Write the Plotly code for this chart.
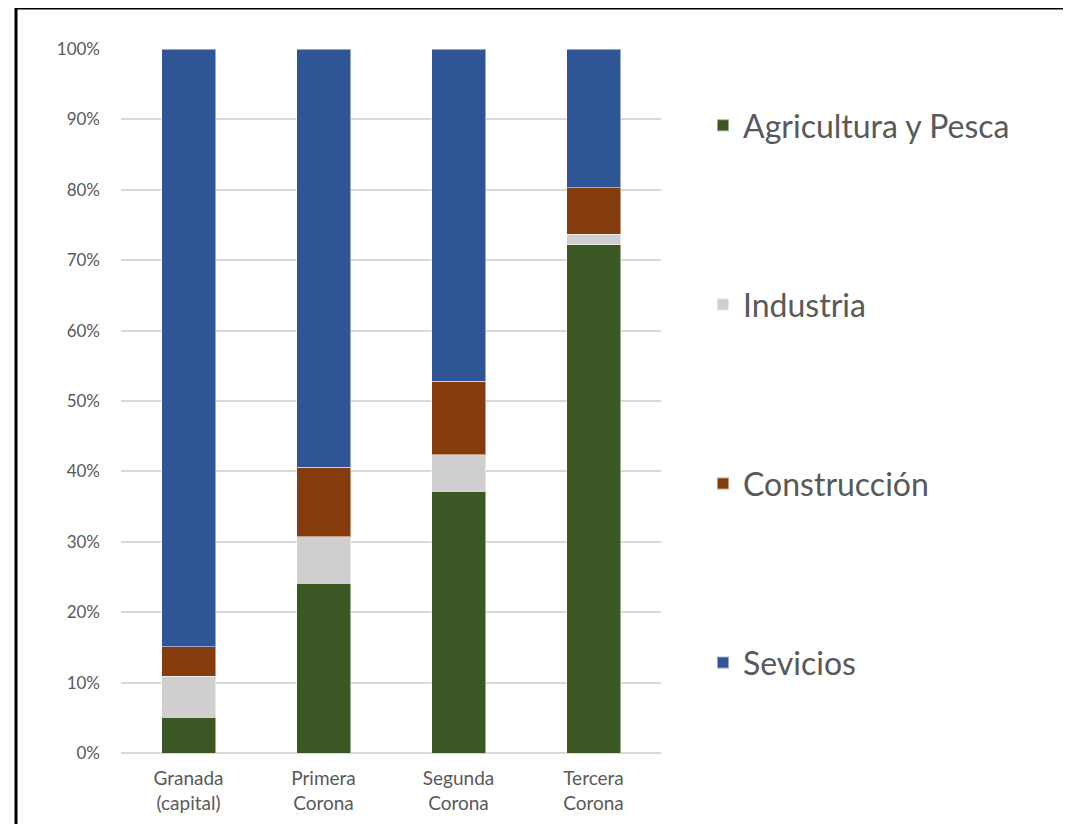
import plotly.graph_objects as go

categories = ["Granada<br>(capital)", "Primera<br>Corona", "Segunda<br>Corona", "Tercera<br>Corona"]
agricultura = [5.1, 24.1, 37.2, 72.2]
industria = [5.8, 6.6, 5.2, 1.5]
construccion = [4.2, 9.9, 10.4, 6.6]
servicios = [84.9, 59.4, 47.2, 19.7]

series_names = ["Agricultura y Pesca", "Industria", "Construcción", "Sevicios"]
series_values = [agricultura, industria, construccion, servicios]
series_colors = ["#3a5724", "#d0cece", "#843c0c", "#2f5597"]

fig = go.Figure()
for name, vals, col in zip(series_names, series_values, series_colors):
    fig.add_trace(go.Bar(
        x=categories, y=vals, name=name, legendgroup=name,
        marker=dict(color=col, line=dict(color="rgba(255,255,255,0.5)", width=1)),
        width=0.4,
    ))

W, H = 1071, 824
OFF = 7  # page body offset
L, T = 120 - OFF, 48 - OFF
pw, ph = 540, 704
R, B = W - L - pw, H - T - ph

fig.update_layout(
    width=W, height=H,
    margin=dict(l=L, r=R, t=T, b=B, autoexpand=False),
    barmode="stack",
    plot_bgcolor="white", paper_bgcolor="white",
    font=dict(family="Lato, Open Sans, sans-serif", color="#595959", size=16),
    showlegend=True,
    legend=dict(
        x=(702 - 120) / pw, xanchor="left", y=(752 - 97) / ph, yanchor="top",
        traceorder="grouped", tracegroupgap=134.5,
        font=dict(size=32, color="#595959"),
        itemsizing="constant", bgcolor="rgba(0,0,0,0)",
    ),
    xaxis=dict(showgrid=False, showline=False, ticks="", ticklabelstandoff=12,
               tickfont=dict(size=19, color="#595959")),
    yaxis=dict(range=[0, 100], dtick=10, ticksuffix="%", showgrid=True,
               gridcolor="#d9d9d9", gridwidth=1.5, zeroline=True, zerolinecolor="#d9d9d9",
               zerolinewidth=1.5, showline=False, ticks="", ticklabelstandoff=20,
               tickfont=dict(size=17, color="#595959")),
    shapes=[dict(type="rect", xref="paper", yref="paper",
                 x0=(15 - 120) / pw, x1=(W + 20 - 120) / pw,
                 y0=(752 - (H + 20)) / ph, y1=(752 - 7) / ph,
                 line=dict(color="black", width=3), fillcolor="rgba(0,0,0,0)", layer="above")],
)

fig.write_html("out.html")
